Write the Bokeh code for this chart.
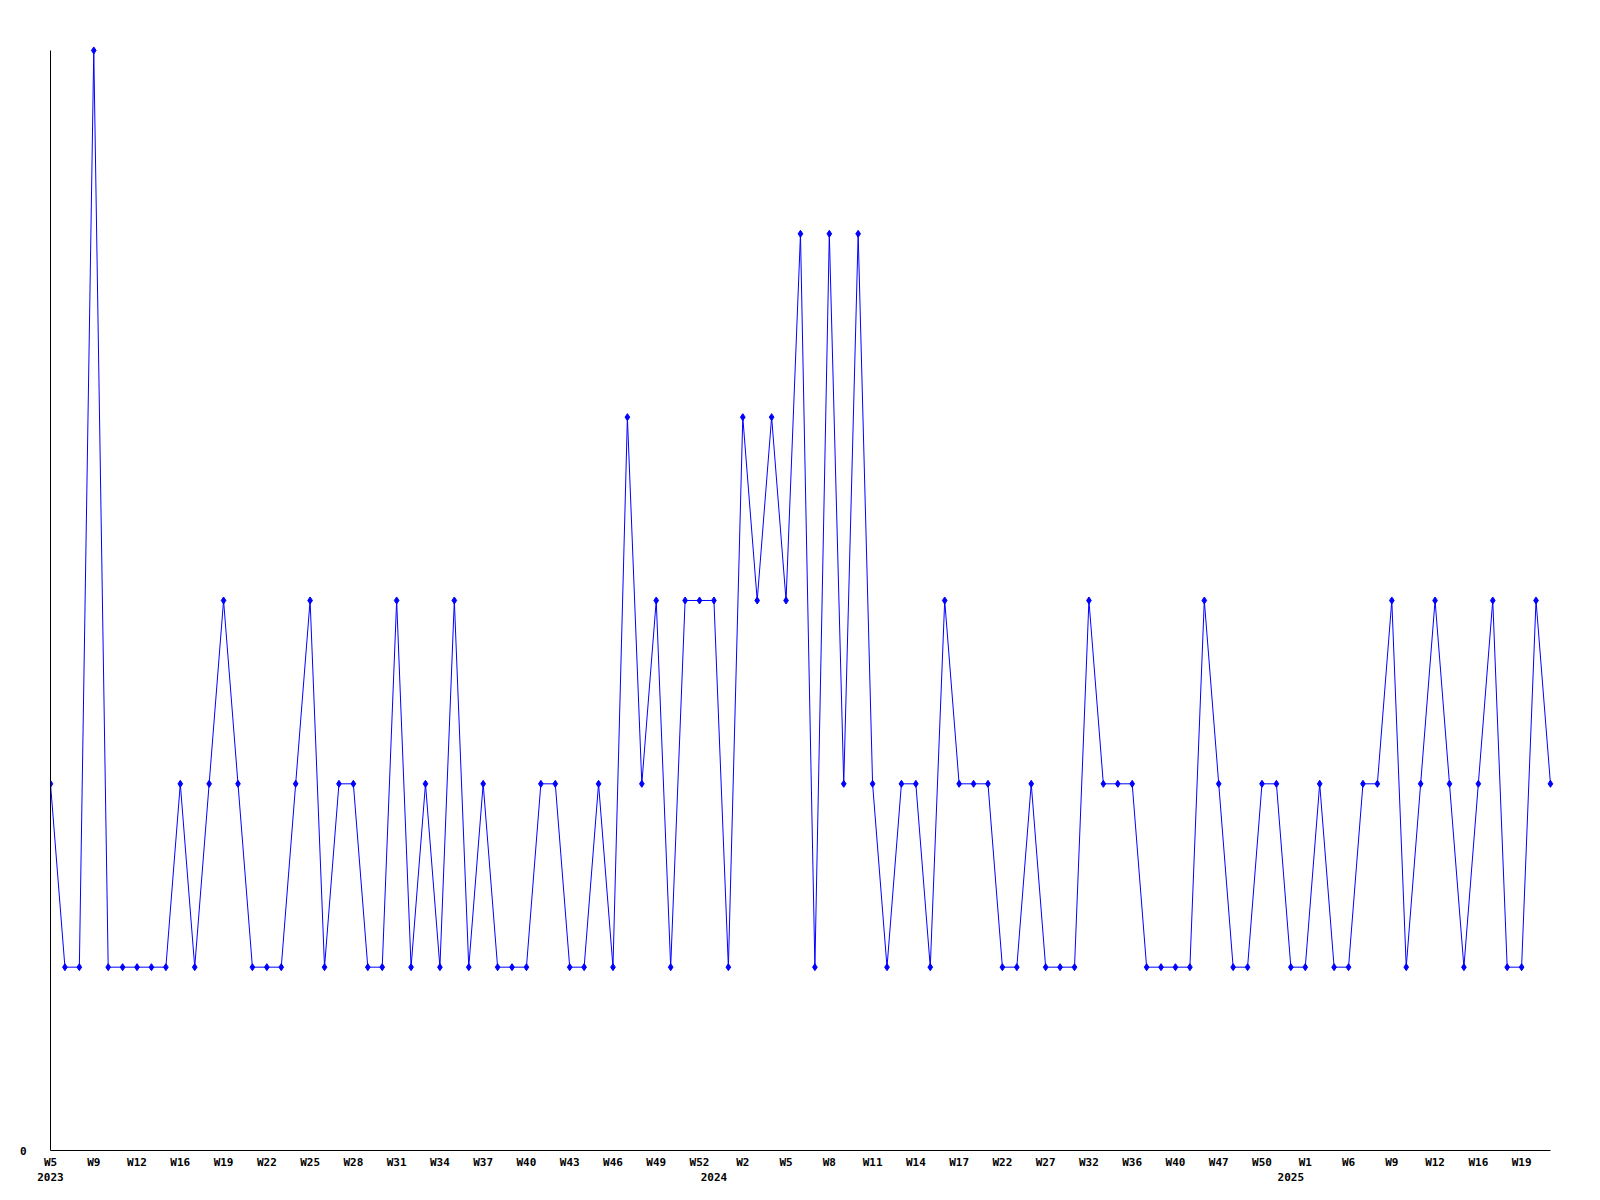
from bokeh.plotting import figure
from bokeh.models import Range1d, FixedTicker, LinearAxis, ColumnDataSource
from bokeh.embed import file_html
from bokeh.resources import INLINE

# ---- data ----
counts = [
    2, 1, 1, 6, 1, 1, 1, 1, 1, 2,
    1, 2, 3, 2, 1, 1, 1, 2, 3, 1,
    2, 2, 1, 1, 3, 1, 2, 1, 3, 1,
    2, 1, 1, 1, 2, 2, 1, 1, 2, 1,
    4, 2, 3, 1, 3, 3, 3, 1, 4, 3,
    4, 3, 5, 1, 5, 2, 5, 2, 1, 2,
    2, 1, 3, 2, 2, 2, 1, 1, 2, 1,
    1, 1, 3, 2, 2, 2, 1, 1, 1, 1,
    3, 2, 1, 1, 2, 2, 1, 1, 2, 1,
    1, 2, 2, 3, 1, 2, 3, 2, 1, 2,
    3, 1, 1, 3, 2,
]
week_labels = ["W5", "W9", "W12", "W16", "W19", "W22", "W25", "W28", "W31", "W34",
               "W37", "W40", "W43", "W46", "W49", "W52", "W2", "W5", "W8", "W11",
               "W14", "W17", "W22", "W27", "W32", "W36", "W40", "W47", "W50", "W1",
               "W6", "W9", "W12", "W16", "W19"]
week_label_step = 3
year_labels = ["2023", "2024", "2025"]
year_label_index = [0, 46, 86]
y_labels = {0: "0"}

xs = list(range(len(counts)))
src = ColumnDataSource(data=dict(x=xs, y=counts))

FONT = "DejaVu Sans Mono"

p = figure(
    frame_width=1505, frame_height=1105,
    min_border_left=50, min_border_top=45, min_border_right=32, min_border_bottom=42,
    x_range=Range1d(0, 104.35), y_range=Range1d(0, 6.027),
    output_backend="svg", toolbar_location=None,
    background_fill_color="white", border_fill_color="white",
)
p.outline_line_color = None
p.xgrid.visible = False
p.ygrid.visible = False

p.line("x", "y", source=src, line_color="#0000FF", line_width=1)
p.scatter("x", "y", source=src, marker="diamond", size=7,
          fill_color="#0000FF", line_color="#0000FF")

# y axis: only the 0 label
ya = p.yaxis[0]
ya.ticker = FixedTicker(ticks=list(y_labels.keys()))
ya.major_label_overrides = y_labels
ya.bounds = (0, max(counts))
ya.axis_line_color = "black"
ya.major_tick_out = 0
ya.major_tick_in = 0
ya.minor_tick_out = 0
ya.minor_tick_in = 0
ya.major_label_standoff = 24
ya.major_label_text_font = FONT
ya.major_label_text_font_style = "bold"
ya.major_label_text_font_size = "11px"
ya.major_label_text_color = "black"

# x axis: week labels
wticks = [i * week_label_step for i in range(len(week_labels))]
xa = p.xaxis[0]
xa.ticker = FixedTicker(ticks=wticks)
xa.major_label_overrides = {t: l for t, l in zip(wticks, week_labels)}
xa.bounds = (0, len(counts) - 1)
xa.axis_line_color = "black"
xa.major_tick_out = 0
xa.major_tick_in = 0
xa.minor_tick_out = 0
xa.minor_tick_in = 0
xa.major_label_standoff = 5
xa.major_label_text_font = FONT
xa.major_label_text_font_style = "bold"
xa.major_label_text_font_size = "11px"
xa.major_label_text_color = "black"

# second axis: year labels
ya2 = LinearAxis(
    ticker=FixedTicker(ticks=year_label_index),
    major_label_overrides={t: l for t, l in zip(year_label_index, year_labels)},
    axis_line_color=None, major_tick_out=0, major_tick_in=0,
    minor_tick_out=0, minor_tick_in=0, major_label_standoff=1,
    major_label_text_font=FONT, major_label_text_font_style="bold",
    major_label_text_font_size="11px", major_label_text_color="black",
)
p.add_layout(ya2, "below")

open("out.html", "w").write(file_html(p, INLINE))
